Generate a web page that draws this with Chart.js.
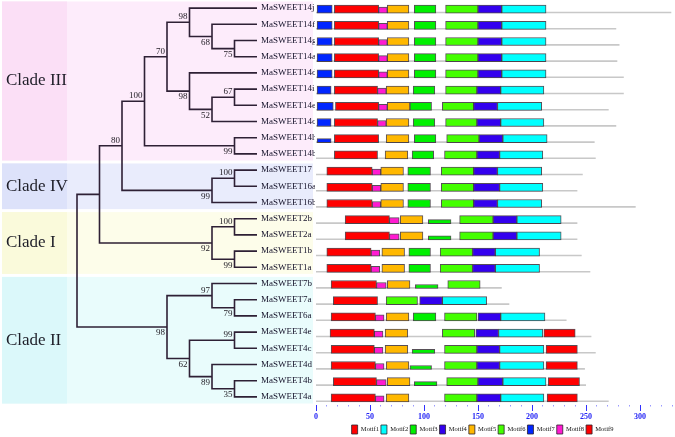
<!DOCTYPE html>
<html>
<head>
<meta charset="utf-8">
<title>MaSWEET phylogeny and conserved motifs</title>
<script src="https://cdn.jsdelivr.net/npm/chart.js@4.4.1/dist/chart.umd.min.js"></script>
<style>
  html, body { margin: 0; padding: 0; background: #fff; }
  #wrap { width: 675px; height: 437px; position: relative; }
</style>
</head>
<body>
<div id="wrap"><canvas id="chart"></canvas></div>
<script>
// ---- data: genes top to bottom, as ordered by the tree ----
const genes = ['MaSWEET14j', 'MaSWEET14f', 'MaSWEET14g', 'MaSWEET14a', 'MaSWEET14d',
  'MaSWEET14i', 'MaSWEET14e', 'MaSWEET14c', 'MaSWEET14h', 'MaSWEET14b',
  'MaSWEET17', 'MaSWEET16a', 'MaSWEET16b', 'MaSWEET2b', 'MaSWEET2a',
  'MaSWEET1b', 'MaSWEET1a', 'MaSWEET7b', 'MaSWEET7a', 'MaSWEET6a',
  'MaSWEET4e', 'MaSWEET4c', 'MaSWEET4d', 'MaSWEET4b', 'MaSWEET4a'];

const proteinLength = [329, 278, 281, 279, 285, 285, 271, 278, 258, 259,
  247, 242, 296, 242, 242, 246, 254, 172, 179, 232, 255, 259, 249, 250, 271];

// motif hits [start, end] in residues, one entry per gene (null = absent)
const motif1 = [[17, 58], [17, 58], [17, 58], [17, 58], [17, 58], [17, 57], [18, 58], [17, 57], [17, 58], [17, 57],
  [10, 52], [10, 52], [10, 52], [27, 68], [27, 68], [10, 51], [10, 51], [14, 56], [16, 57], [14, 55],
  [13, 54], [14, 54], [14, 55], [16, 56], [14, 55]];
const motif2 = [[172, 213], [172, 213], [172, 213], [172, 213], [172, 213], [171, 211], [168, 209], [171, 211], [173, 214], [170, 210],
  [168, 209], [170, 210], [168, 209], [186, 227], [186, 227], [166, 207], [166, 207], null, [117, 158], [171, 212],
  [169, 210], [170, 211], [170, 211], [173, 213], [171, 211]];
const motif3 = [[91, 111], [91, 111], [91, 111], [91, 111], [91, 111], [90, 110], [87, 107], [90, 110], [91, 111], [89, 109],
  [85, 106], [85, 106], [85, 106], [104, 125], [104, 125], [86, 106], [86, 106], [92, 113], null, [90, 111],
  null, [89, 110], [87, 107], [91, 112], null];
const motif4 = [[150, 172], [150, 172], [150, 172], [150, 172], [150, 172], [149, 171], [146, 168], [149, 171], [151, 173], [149, 170],
  [146, 168], [146, 170], [146, 168], [164, 186], [164, 186], [145, 166], [145, 166], null, [96, 117], [150, 171],
  [148, 169], [149, 170], [149, 170], [150, 173], [149, 171]];
const motif5 = [[66, 86], [66, 86], [66, 86], [66, 86], [66, 86], [65, 86], [66, 87], [65, 86], [65, 86], [64, 85],
  [60, 81], [60, 81], [60, 81], [78, 99], [78, 99], [61, 82], [61, 82], [66, 87], null, [65, 86],
  [64, 85], [64, 85], [65, 86], [66, 87], [65, 86]];
const motif6 = [[120, 150], [120, 150], [120, 150], [120, 150], [120, 150], [120, 149], [117, 146], [120, 149], [121, 151], [119, 149],
  [116, 146], [116, 146], [116, 146], [133, 164], [133, 164], [115, 145], [115, 145], [122, 152], [65, 94], [119, 149],
  [117, 147], [119, 149], [119, 149], [121, 150], [119, 149]];
const motif7 = [[1, 15], [1, 15], [1, 15], [1, 15], [1, 15], [1, 14], [1, 16], [1, 14], [1, 14], null,
  null, null, null, null, null, null, null, null, null, null,
  null, null, null, null, null];
const motif8 = [[58, 66], [58, 66], [58, 66], [58, 66], [58, 66], [57, 65], [58, 66], [57, 65], null, null,
  [52, 60], [52, 60], [52, 60], [68, 77], [68, 77], [51, 59], [51, 59], [56, 65], null, [55, 63],
  [54, 62], [54, 62], [55, 63], [56, 65], [55, 63]];
const motif9 = [null, null, null, null, null, null, null, null, null, null,
  null, null, null, null, null, null, null, null, null, null,
  [211, 240], [213, 242], [213, 242], [215, 244], [214, 242]];

const motifNames = ['Motif1', 'Motif2', 'Motif3', 'Motif4', 'Motif5', 'Motif6', 'Motif7', 'Motif8', 'Motif9'];
const motifHits = [motif1, motif2, motif3, motif4, motif5, motif6, motif7, motif8, motif9];
// hits drawn as low blocks in the figure
const weakHits = {
  Motif3: ['MaSWEET2b', 'MaSWEET2a', 'MaSWEET7b', 'MaSWEET4c', 'MaSWEET4d', 'MaSWEET4b'],
  Motif7: ['MaSWEET14h']
};
const axisTicks = [0, 10, 20, 30, 40, 50, 60, 70, 80, 90, 100, 110, 120, 130, 140, 150, 160,
  170, 180, 190, 200, 210, 220, 230, 240, 250, 260, 270, 280, 290, 300, 310, 320, 330];

// ---- tree: internal nodes (level 0 = root, leaves sit on level 8) ----
const nodeIds = ['n1', 'n2', 'n3', 'n4', 'n5', 'n6', 'n7', 'n8', 'n9', 'n10', 'n11', 'n12',
  'n13', 'n14', 'n15', 'n16', 'n17', 'n18', 'n19', 'n20', 'n21', 'n22', 'n23', 'root'];
const nodeKids = [
  ['MaSWEET14g', 'MaSWEET14a'], ['MaSWEET14f', 'n1'], ['MaSWEET14j', 'n2'],
  ['MaSWEET14i', 'MaSWEET14e'], ['n4', 'MaSWEET14c'], ['MaSWEET14d', 'n5'], ['n3', 'n6'],
  ['MaSWEET14h', 'MaSWEET14b'], ['n7', 'n8'],
  ['MaSWEET17', 'MaSWEET16a'], ['n10', 'MaSWEET16b'], ['n9', 'n11'],
  ['MaSWEET2b', 'MaSWEET2a'], ['MaSWEET1b', 'MaSWEET1a'], ['n13', 'n14'], ['n12', 'n15'],
  ['MaSWEET7a', 'MaSWEET6a'], ['MaSWEET7b', 'n17'], ['MaSWEET4e', 'MaSWEET4c'],
  ['MaSWEET4b', 'MaSWEET4a'], ['MaSWEET4d', 'n20'], ['n19', 'n21'], ['n18', 'n22'], ['n16', 'n23']];
const nodeLevel = [7, 6, 5, 7, 6, 5, 4, 7, 3, 7, 6, 2, 7, 7, 6, 1, 7, 6, 7, 7, 6, 5, 4, 0];
const nodeSupport = [75, 68, 98, 67, 52, 98, 70, 99, 100, 100, 99, 80,
  100, 99, 92, null, 79, 97, 99, 35, 89, 62, 98, null];
const supportSide = ['below', 'below', 'above', 'above', 'below', 'below', 'above', 'below', 'above', 'above', 'below', 'above',
  'above', 'below', 'below', null, 'below', 'above', 'above', 'below', 'below', 'below', 'below', null];
const leafLevel = 8;

const cladeNames = ['Clade III', 'Clade IV', 'Clade I', 'Clade II'];
const cladeFirst = ['MaSWEET14j', 'MaSWEET17', 'MaSWEET2b', 'MaSWEET7b'];
const cladeLast = ['MaSWEET14b', 'MaSWEET16b', 'MaSWEET1a', 'MaSWEET4a'];

// ---- styling / layout constants ----
const motifColors = ['#ff0000', '#00ffff', '#00f000', '#3300ee', '#ffb800', '#44ff00', '#0026ff', '#ff1ad1', '#ff0000'];
const cladeFill = [['#fbdff6', '#fdecfb'], ['#dde2fa', '#e9ecfc'], ['#fafadb', '#fdfdea'], ['#dbf8fa', '#e9fcfc']];
const AREA_LEFT = 315, AREA_RIGHT = 650;   // chart area edges (padding + y axis width)
const AA_ZERO = 316, AA_PX = 1.08;         // residue axis: pixel of 0, pixels per residue
const TREE_ROOT = 77, TREE_STEP = 22.5;    // tree: pixel of root, pixels per level
const ROW_PX = 16.2;                       // row pitch
const BOX_BOTTOM = 5;                      // boxes rest on the backbone, 5px under row centre

Chart.defaults.font.family = '"Liberation Serif", "Times New Roman", serif';

const boxRow = (i, h) => i + (BOX_BOTTOM - h / 2) / ROW_PX;

const datasets = [];
function motifSet(m, keep, h, label) {
  const data = [];
  motifHits[m].forEach((hit, i) => {
    if (hit && keep(genes[i])) data.push({ x: hit, y: boxRow(i, h) });
  });
  return {
    type: 'bar', label, indexAxis: 'y', grouped: false, data,
    backgroundColor: motifColors[m], borderColor: 'rgba(45,35,45,0.8)', borderWidth: 1,
    borderSkipped: false, barThickness: h, xAxisID: 'x', yAxisID: 'y', order: 0
  };
}
motifNames.forEach((name, m) => {
  const weak = weakHits[name] || [];
  datasets.push(motifSet(m, g => !weak.includes(g), name === 'Motif8' ? 6 : 8, name));
});
motifNames.forEach((name, m) => {
  const weak = weakHits[name];
  if (weak) datasets.push(motifSet(m, g => weak.includes(g), 4, name + ' (weak)'));
});

// protein backbones
const backbone = [];
proteinLength.forEach((len, i) => {
  const yy = i + (BOX_BOTTOM - 0.6) / ROW_PX;
  backbone.push({ x: 0, y: yy }, { x: len, y: yy }, { x: null, y: null });
});
datasets.push({
  type: 'line', label: 'backbone', data: backbone, xAxisID: 'x', yAxisID: 'y',
  borderColor: '#c8c8c8', borderWidth: 1.6, pointRadius: 0, spanGaps: false, clip: false, order: 1
});

// tree branches, each internal node drawn as a bracket
function place(id) {
  if (genes.includes(id)) return { x: leafLevel, y: genes.indexOf(id) };
  const k = nodeIds.indexOf(id);
  const kids = nodeKids[k].map(place);
  return { x: nodeLevel[k], y: (kids[0].y + kids[kids.length - 1].y) / 2 };
}
const branches = [];
nodeIds.forEach((id, k) => {
  const me = place(id);
  const a = place(nodeKids[k][0]);
  const b = place(nodeKids[k][nodeKids[k].length - 1]);
  branches.push({ x: a.x, y: a.y }, { x: me.x, y: a.y }, { x: me.x, y: b.y }, { x: b.x, y: b.y }, { x: null, y: null });
});
datasets.push({
  type: 'line', label: 'tree', data: branches, xAxisID: 'xt', yAxisID: 'y',
  borderColor: '#2e2035', borderWidth: 1.6, pointRadius: 0, spanGaps: false, clip: false, order: 2
});

const cladeArt = {
  id: 'cladeArt',
  beforeDraw(chart) {
    const { ctx, scales: { y } } = chart;
    ctx.save();
    cladeNames.forEach((name, k) => {
      const top = Math.max(0, y.getPixelForValue(genes.indexOf(cladeFirst[k]) - 0.5) + 1.5);
      const bot = y.getPixelForValue(genes.indexOf(cladeLast[k]) + 0.5) - 1.5;
      ctx.fillStyle = cladeFill[k][1];
      ctx.fillRect(2, top, 311, bot - top);
      ctx.fillStyle = cladeFill[k][0];
      ctx.fillRect(2, top, 65, bot - top);
      ctx.fillStyle = '#1e1e28';
      ctx.font = '17px "Liberation Serif"';
      ctx.textBaseline = 'middle';
      ctx.textAlign = 'left';
      ctx.fillText(name, 6, (top + bot) / 2);
    });
    ctx.restore();
  },
  afterDatasetsDraw(chart) {
    const { ctx, scales: { xt, y } } = chart;
    ctx.save();
    ctx.fillStyle = '#1e1a22';
    ctx.font = '9px "Liberation Serif"';
    ctx.textAlign = 'right';
    ctx.textBaseline = 'middle';
    nodeIds.forEach((id, k) => {
      if (nodeSupport[k] == null) return;
      const p = place(id);
      const px = xt.getPixelForValue(p.x) - 2;
      const py = y.getPixelForValue(p.y) + (supportSide[k] === 'above' ? -5.5 : 6);
      ctx.fillText(String(nodeSupport[k]), px, py);
    });
    ctx.restore();
  }
};

new Chart(document.getElementById('chart'), {
  type: 'bar',
  data: { datasets },
  plugins: [cladeArt],
  options: {
    responsive: true,
    maintainAspectRatio: false,
    animation: false,
    layout: { padding: { left: 261, right: 675 - AREA_RIGHT, top: 0, bottom: -7 } },
    scales: {
      x: {
        type: 'linear', position: 'bottom', bounds: 'data', offset: false,
        min: (AREA_LEFT - AA_ZERO) / AA_PX, max: (AREA_RIGHT - AA_ZERO) / AA_PX,
        afterBuildTicks: s => { s.ticks = axisTicks.map(v => ({ value: v })); },
        afterFit: s => { s.height = 18; s.paddingLeft = 0; s.paddingRight = 0; },
        ticks: {
          autoSkip: false, maxRotation: 0, padding: 1, color: '#2323f5',
          font: { size: 8, weight: 'bold' },
          callback: v => (v % 50 === 0 ? String(v) : '')
        },
        grid: {
          drawOnChartArea: false, tickLength: 6, offset: false,
          tickColor: c => (c.tick && c.tick.value % 50 ? 'rgba(70,70,255,0.55)' : '#3030ff'),
          tickBorderDash: c => (c.tick && c.tick.value % 50 ? [1.5, 10] : [])
        },
        border: { display: false }
      },
      xt: {
        type: 'linear', display: false, bounds: 'data', offset: false,
        min: (AREA_LEFT - TREE_ROOT) / TREE_STEP, max: (AREA_RIGHT - TREE_ROOT) / TREE_STEP
      },
      y: {
        type: 'linear', position: 'left', reverse: true, bounds: 'data', offset: false,
        min: -0.5, max: genes.length - 0.5,
        afterBuildTicks: s => { s.ticks = genes.map((g, i) => ({ value: i })); },
        afterFit: s => { s.width = AREA_LEFT - 261; s.paddingTop = 0; s.paddingBottom = 0; },
        ticks: {
          autoSkip: false, crossAlign: 'far', padding: 0, color: '#15122a',
          font: { size: 9 },
          callback: v => genes[v]
        },
        grid: { display: false },
        border: { display: false }
      }
    },
    plugins: {
      tooltip: { enabled: false },
      legend: {
        position: 'bottom', fullSize: false, align: 'center',
        labels: {
          boxWidth: 6, boxHeight: 9, padding: 2, color: '#111',
          font: { size: 6.5 },
          filter: item => item.datasetIndex < motifNames.length
        }
      }
    }
  }
});
</script>
</body>
</html>
